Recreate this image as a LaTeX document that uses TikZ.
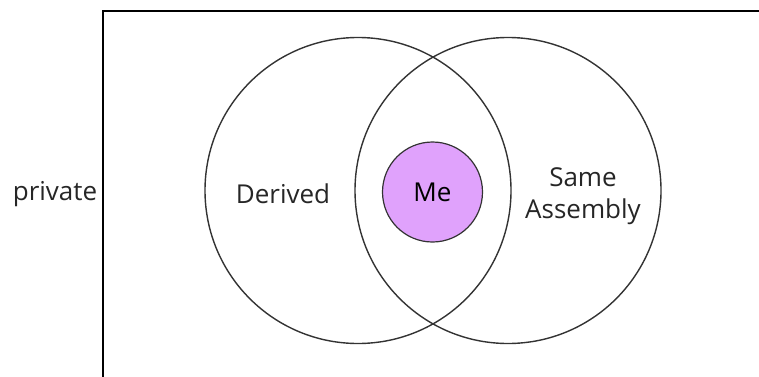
\documentclass[tikz,border=0pt]{standalone}
\usepackage{fontspec}
\setmainfont{Open Sans}
\usetikzlibrary{positioning}

\definecolor{mepurple}{RGB}{224,162,252}

\begin{document}
\begin{tikzpicture}[x=0.5pt, y=0.5pt,
        ring/.style = {
            circle,
            draw=black!80,
            line width=0.7pt,
            minimum size=153pt,
            inner sep=0pt
        },
        core/.style = {
            circle,
            draw=black!80,
            line width=0.6pt,
            fill=mepurple,
            minimum size=50pt,
            inner sep=0pt,
            font=\fontsize{13}{16}\selectfont
        },
        tag/.style = {
            align=center,
            inner sep=0pt,
            text=black!85,
            font=\fontsize{13}{16}\selectfont
        }  ]

        \useasboundingbox (0,0) rectangle (759,376);
        \draw[line width=1pt] (103,-20) rectangle (800,365.5);

        \node (derived_set) [ring] at (358,185.5) {};
        \node (assembly_set) [ring] at (508,185.5) {};
        \node (me) [core] at (432.5,184) {Me};

        \node (derived) [tag] at (283,182) {Derived};
        \node (assembly) [tag] at (583,180) {Same\\Assembly};
        \node (private) [tag] at (55,182) {private};
    \end{tikzpicture}
\end{document}
